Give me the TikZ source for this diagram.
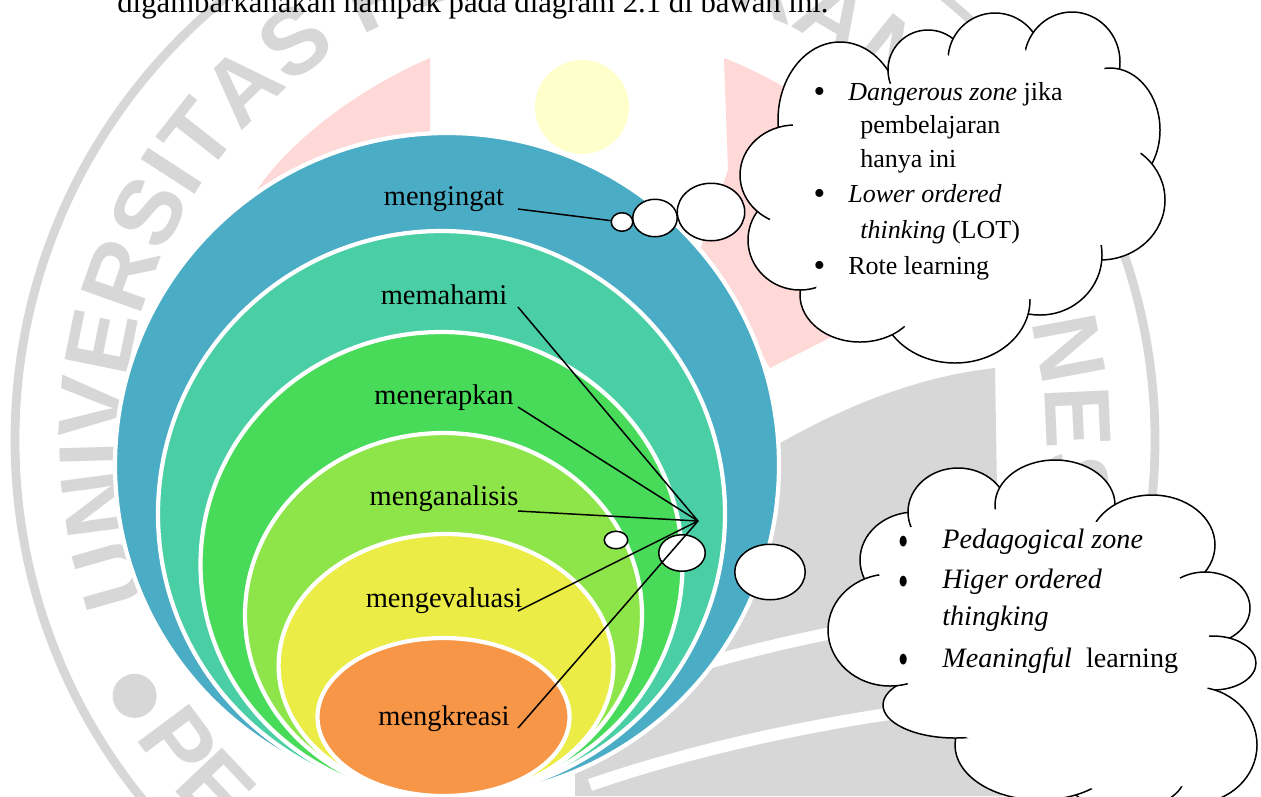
\documentclass[tikz,border=0pt]{standalone}
\usepackage{fontspec}
\setmainfont{Liberation Serif}
\newfontfamily\sealfont{Liberation Sans}
\usetikzlibrary{shapes.geometric,decorations.text}
\definecolor{lvlone}{HTML}{4BACC6}
\definecolor{lvltwo}{HTML}{4ACFA5}
\definecolor{lvlthree}{HTML}{48DB5A}
\definecolor{lvlfour}{HTML}{8EE54A}
\definecolor{lvlfive}{HTML}{ECEC46}
\definecolor{lvlsix}{HTML}{F79646}
\definecolor{sealgray}{HTML}{D7D7D7}
\definecolor{sealpink}{HTML}{FFD8D8}
\definecolor{sealyellow}{HTML}{FFFFCC}
\newcommand{\dotA}{\llap{\raisebox{-0.04cm}{\fontsize{19}{19}\selectfont\textbullet}\hspace{0.46cm}}}
\newcommand{\dotB}{\llap{\raisebox{-0.15cm}{\scalebox{1.05}[1.6]{\textbullet}}\hspace{0.68cm}}}

\begin{document}
\begin{tikzpicture}[x=0.02cm, y=-0.02cm,
  level/.style={draw=white, line width=2.4pt},
  lbl/.style={anchor=base, inner sep=0pt, font=\fontsize{16.2}{19}\selectfont},
  item/.style={anchor=base west, inner sep=0pt, font=\fontsize{14.8}{17}\selectfont},
  itemb/.style={anchor=base west, inner sep=0pt, font=\fontsize{16}{19}\selectfont},
  bub/.style={ellipse, draw, fill=white, line width=0.85pt, inner sep=0pt},
  puff/.style={draw, fill=white, line width=0.85pt},
  ln/.style={line width=0.85pt}
]
\useasboundingbox (0,0) rectangle (1261,796);

% seal behind the figure
\draw[sealgray, line width=5pt] (585,440) circle [radius=570];
\path[decorate, decoration={text along path, text color=sealgray,
    text={|\sealfont\bfseries\fontsize{53}{53}\selectfont|UNIVERSITAS PENDIDIKAN INDONESIA}}]
  (585,440) ++(-200:461) arc [start angle=-200, end angle=25, radius=461];
\path[decorate, decoration={text along path, text color=sealgray,
    text={|\sealfont\bfseries\fontsize{53}{53}\selectfont|PE}}]
  (585,440) ++(146.6:539) arc [start angle=146.6, end angle=115, radius=539];
\fill[sealgray] (585,440) ++(-209.6:518) circle [radius=22];
\fill[sealpink] (430,58) .. controls (360,88) and (290,140) .. (257,190) -- (300,400) -- (430,400) -- cycle;
\fill[sealpink] (724,58) .. controls (800,88) and (870,140) .. (900,200) -- (905,300)
  -- (770,368) -- (700,250) -- (728,170) -- cycle;
\fill[sealyellow] (582,107) circle [radius=47];
\fill[sealgray] (760,455) .. controls (850,400) and (930,375) .. (995,368) -- (1002,796)
  -- (575,796) -- (575,700) -- cycle;
\draw[white, line width=7pt] (600,700) .. controls (720,650) and (880,620) .. (1010,605);
\draw[white, line width=7pt] (590,785) .. controls (720,740) and (880,710) .. (1010,700);

\node[anchor=base west, inner sep=0pt, font=\fontsize{17.5}{20}\selectfont] (intro) at (117,12)
  {digambarkanakan nampak pada diagram 2.1 di bawah ini.};

% nested levels
\draw[level, fill=lvlone]   (447,465)   ellipse [x radius=332,   y radius=332];
\draw[level, fill=lvltwo]   (441.5,514) ellipse [x radius=283.5, y radius=283];
\draw[level, fill=lvlthree] (441.5,564.5) ellipse [x radius=241, y radius=232.5];
\draw[level, fill=lvlfour]  (443.5,615) ellipse [x radius=198.5, y radius=182];
\draw[level, fill=lvlfive]  (446,665.5) ellipse [x radius=167.4, y radius=131.5];
\draw[level, fill=lvlsix]   (443.5,717) ellipse [x radius=126,   y radius=79];

\node[lbl] (ingat)    at (444,205) {mengingat};
\node[lbl] (paham)    at (444,304) {memahami};
\node[lbl] (terap)    at (444,404) {menerapkan};
\node[lbl] (analisis) at (444,505) {menganalisis};
\node[lbl] (evaluasi) at (444,607) {mengevaluasi};
\node[lbl] (kreasi)   at (444,725) {mengkreasi};

\coordinate (ingat-e)    at (518,209);
\coordinate (paham-e)    at (518,307);
\coordinate (terap-e)    at (518,407);
\coordinate (analisis-e) at (518,511);
\coordinate (evaluasi-e) at (518,611);
\coordinate (kreasi-e)   at (518,728);
\coordinate (hub) at (698,521);

% upper cloud
\foreach \cx/\cy/\rx/\ry in {840/120/62/78, 928/70/40/40, 995/60/47/47, 1072/62/48/50,
    1110/130/50/62, 1100/200/65/60, 1040/255/62/60, 955/300/75/63, 860/295/60/47,
    800/240/52/50, 795/175/55/50}
  \draw[puff] (\cx,\cy) ellipse [x radius=\rx, y radius=\ry];
\foreach \cx/\cy/\rx/\ry [evaluate=\rx as \sx using \rx-15, evaluate=\ry as \sy using \ry-15]
    in {840/120/62/78, 928/70/40/40, 995/60/47/47, 1072/62/48/50,
    1110/130/50/62, 1100/200/65/60, 1040/255/62/60, 955/300/75/63, 860/295/60/47,
    800/240/52/50, 795/175/55/50}
  \fill[white] (\cx,\cy) ellipse [x radius=\sx, y radius=\sy];
\fill[white] (840,120) -- (928,70) -- (995,60) -- (1072,62) -- (1110,130) -- (1100,200)
  -- (1040,255) -- (955,300) -- (860,295) -- (800,240) -- (795,175) -- cycle;
\fill[white] (955,185) ellipse [x radius=150, y radius=112];

\node[item] (bahaya1) at (848,100) {\dotA\textit{Dangerous zone} jika};
\node[item] (bahaya2) at (860,133.5) {pembelajaran};
\node[item] (bahaya3) at (860,167) {hanya ini};
\node[item] (lot1)    at (848,202.5) {\dotA\textit{Lower ordered}};
\node[item] (lot2)    at (860,238) {\textit{thinking} (LOT)};
\node[item] (rote)    at (848,274) {\dotA Rote learning};

% lower cloud
\foreach \cx/\cy/\rx/\ry in {915/560/55/48, 958/512/50/44, 1055/505/60/45, 1152/545/63/50,
    1205/608/45/36, 1213/663/43/27, 1195/745/62/58, 1125/775/60/35, 1040/745/85/55,
    955/705/72/33, 890/630/62/56}
  \draw[puff] (\cx,\cy) ellipse [x radius=\rx, y radius=\ry];
\foreach \cx/\cy/\rx/\ry [evaluate=\rx as \sx using \rx-15, evaluate=\ry as \sy using \ry-15]
    in {915/560/55/48, 958/512/50/44, 1055/505/60/45, 1152/545/63/50,
    1205/608/45/36, 1213/663/43/27, 1195/745/62/58, 1125/775/60/35, 1040/745/85/55,
    955/705/72/33, 890/630/62/56}
  \fill[white] (\cx,\cy) ellipse [x radius=\sx, y radius=\sy];
\fill[white] (915,560) -- (958,512) -- (1055,505) -- (1152,545) -- (1205,608) -- (1213,663)
  -- (1195,745) -- (1125,775) -- (1040,745) -- (955,705) -- (890,630) -- cycle;
\fill[white] (1045,635) ellipse [x radius=150, y radius=120];

\node[itemb] (pedagogi) at (942,548.5) {\dotB\textit{Pedagogical zone}};
\node[itemb] (hot1)     at (942,588.5) {\dotB\textit{Higer ordered}};
\node[itemb] (hot2)     at (942,625)   {\textit{thingking}};
\node[itemb] (bermakna) at (942,667)   {\dotB\textit{Meaningful}\ \ learning};

% thought bubbles
\node[bub, minimum width=1.35cm, minimum height=1.15cm] (tb3) at (711,212) {};
\node[bub, minimum width=0.89cm, minimum height=0.75cm] (tb2) at (655,218) {};
\node[bub, minimum width=0.43cm, minimum height=0.37cm] (tb1) at (622,222) {};
\node[bub, minimum width=1.41cm, minimum height=1.11cm] (lb3) at (770,572) {};
\node[bub, minimum width=0.93cm, minimum height=0.73cm] (lb2) at (682,553) {};
\node[bub, minimum width=0.47cm, minimum height=0.35cm] (lb1) at (616,540) {};

\draw[ln] (ingat-e) -- (tb1);
\draw[ln] (paham-e) -- (hub);
\draw[ln] (terap-e) -- (hub);
\draw[ln] (analisis-e) -- (hub);
\draw[ln] (evaluasi-e) -- (hub);
\draw[ln] (kreasi-e) -- (hub);
\end{tikzpicture}
\end{document}
